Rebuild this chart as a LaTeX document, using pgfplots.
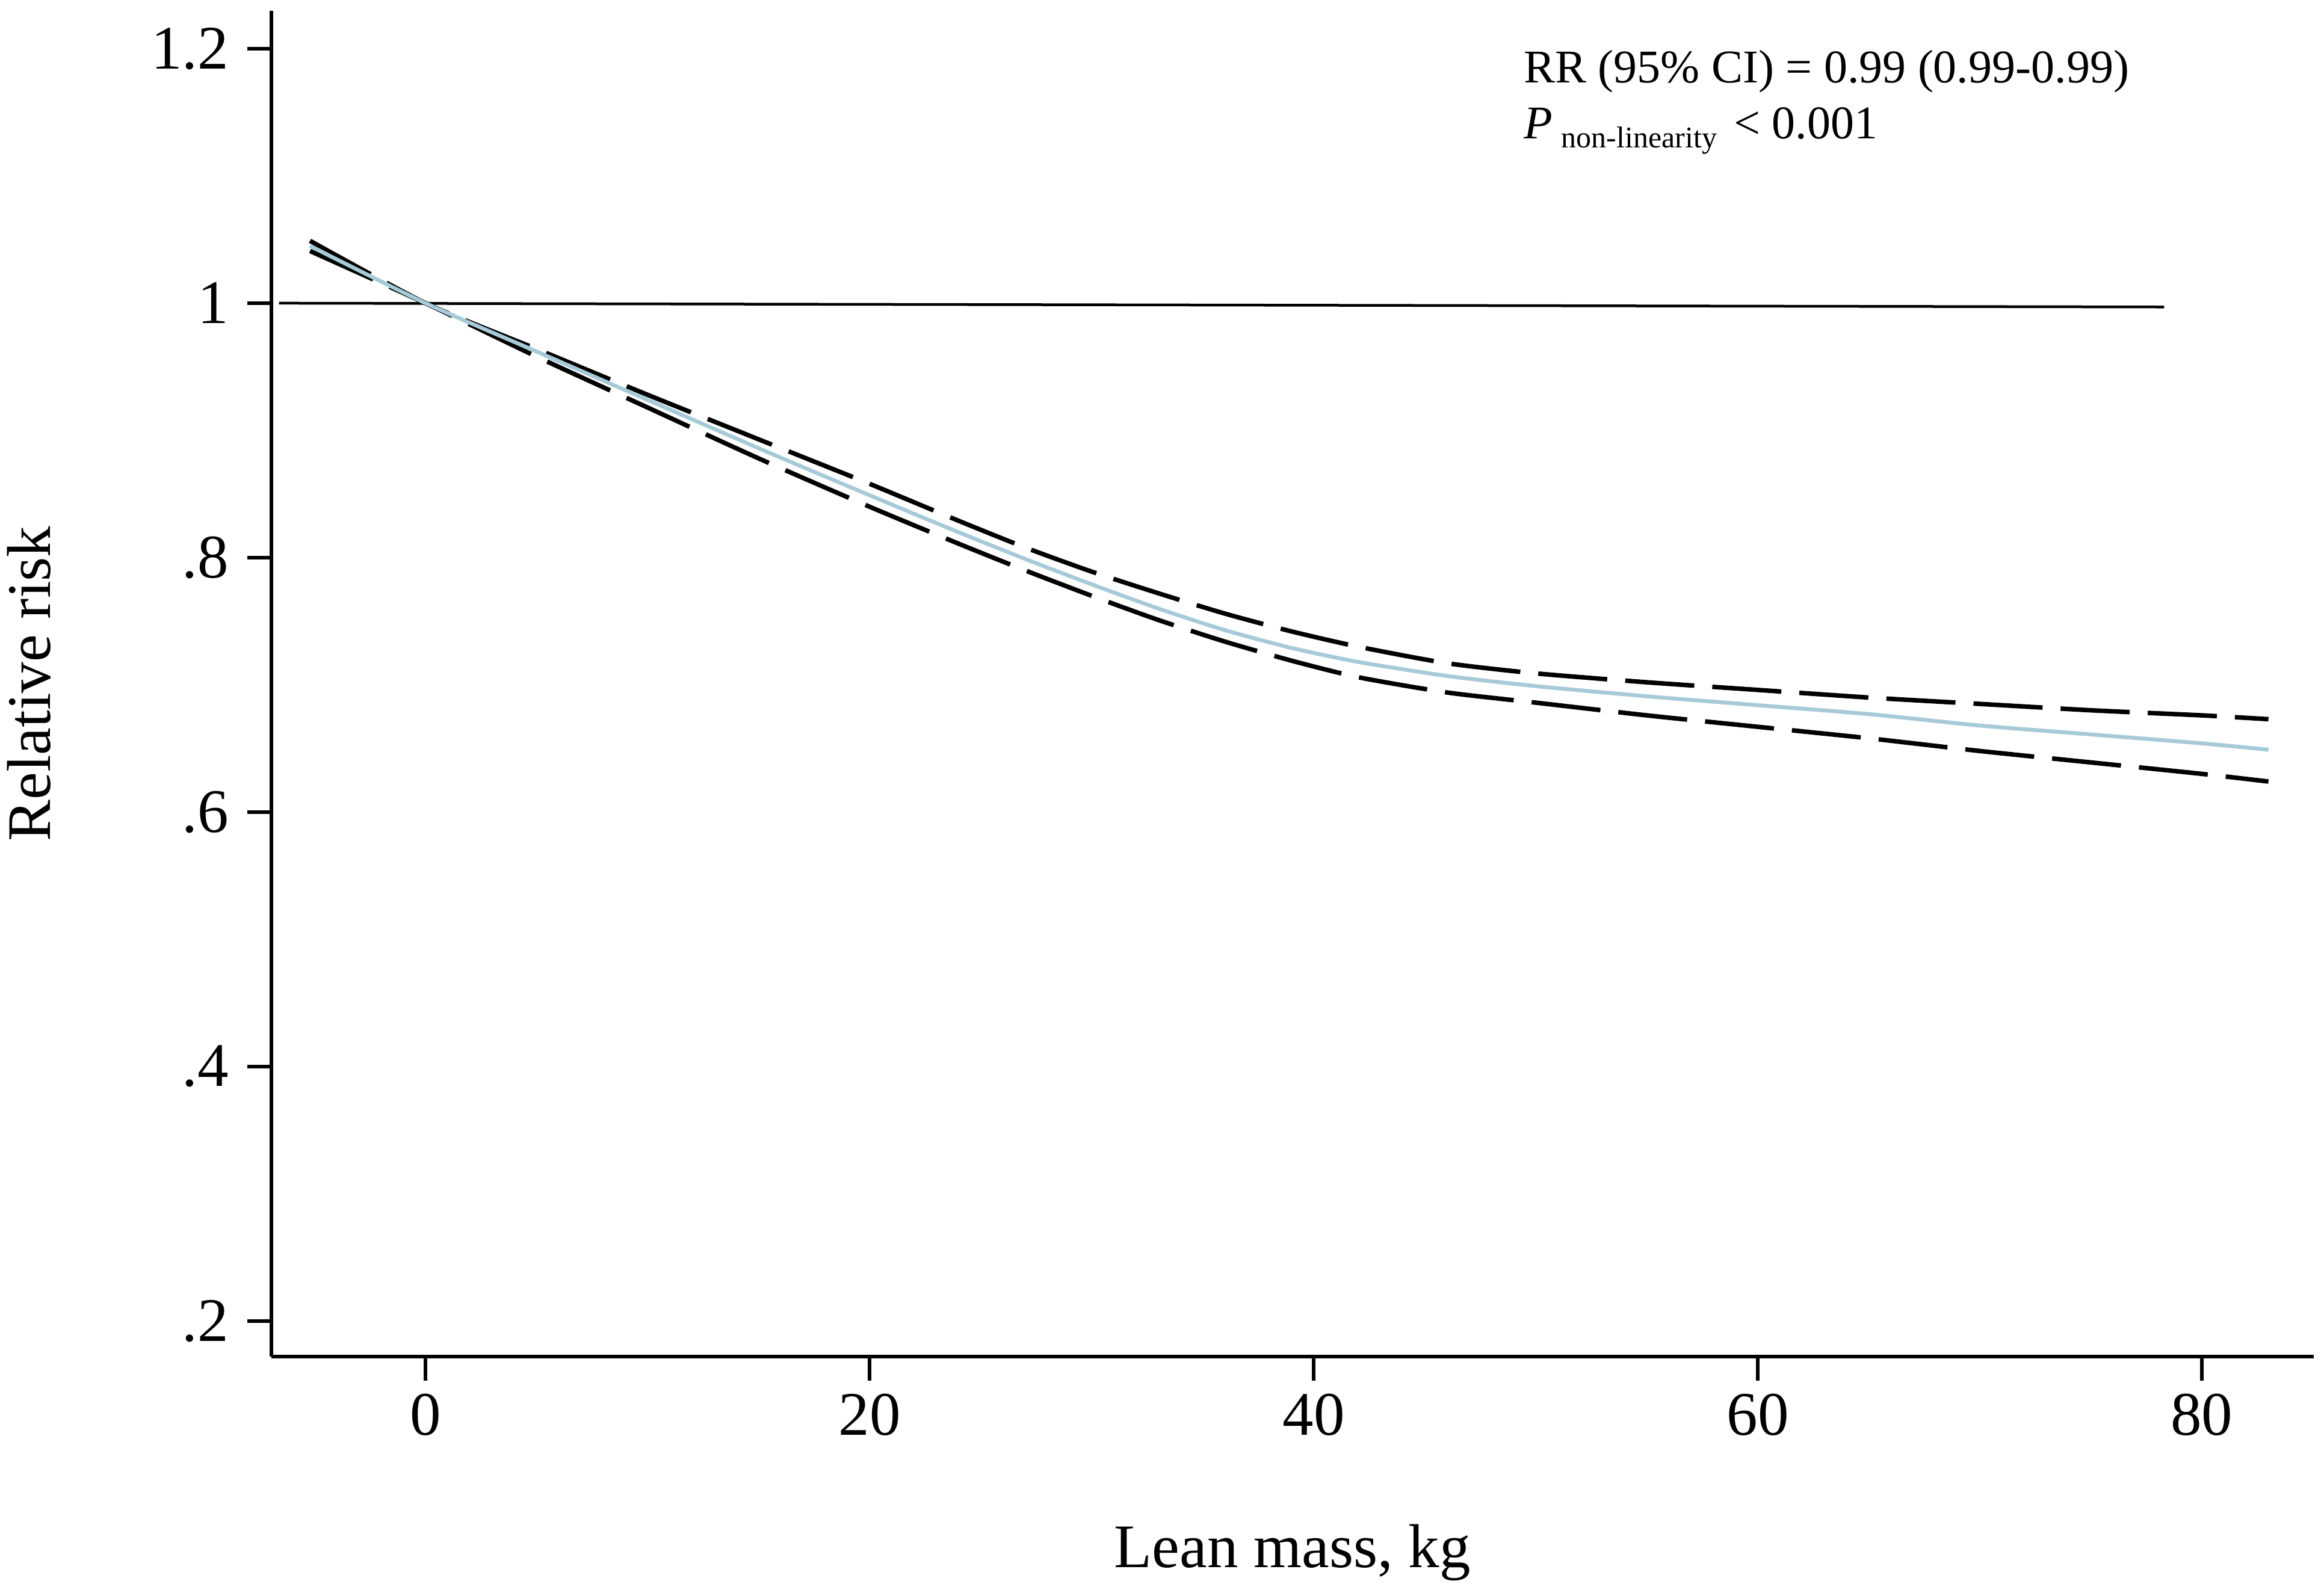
\documentclass[border=0pt]{standalone}
\usepackage{fontspec}
\setmainfont{Liberation Serif}
\usepackage{pgfplots}
\pgfplotsset{compat=1.18}
\definecolor{ciblue}{RGB}{166,202,216}
\begin{document}
\begin{tikzpicture}
\useasboundingbox (-45.1pt,-39.3pt) rectangle (341.1pt,225.5pt);
\begin{axis}[
  at={(0pt,0pt)}, anchor=south west,
  width=339.4pt, height=223.7pt, scale only axis,
  xmin=-6.94, xmax=85.04, ymin=0.172, ymax=1.2298,
  axis x line*=bottom, axis y line*=left,
  axis line style={-, line width=0.6pt, black},
  tick align=outside, major tick length=4pt,
  tick style={black, line width=0.55pt},
  xtick={0,20,40,60,80}, xticklabels={0,20,40,60,80},
  ytick={0.2,0.4,0.6,0.8,1,1.2}, yticklabels={.2,.4,.6,.8,1,1.2},
  ticklabel style={font=\fontsize{10.3}{12}\selectfont, inner sep=0pt},
  xticklabel style={anchor=base, yshift=-9.1pt},
  yticklabel style={anchor=east, xshift=-2.9pt},
  xlabel={Lean mass, kg},
  xlabel style={at={(axis description cs:0.5,-0.1565)}, anchor=base, inner sep=0pt, font=\fontsize{10.3}{12}\selectfont},
  ylabel={Relative risk},
  ylabel style={at={(axis description cs:-0.1084,0.5)}, anchor=base, rotate=0, inner sep=0pt, font=\fontsize{10.3}{12}\selectfont},
  clip=false,
]
% reference line at RR = 1
\addplot[black, line width=0.45pt] coordinates {(-6.6,1.000) (78.3,0.997)};
% upper 95% CI
\addplot[black, line width=0.75pt, dash pattern=on 11.5pt off 3pt, smooth, tension=0.4] coordinates {
(-5.2,1.049) (0,1.000) (5,0.964) (10,0.928) (15,0.893) (20,0.858) (24,0.829) (27,0.808)
(30,0.789) (33,0.772) (36,0.756) (39,0.742) (42,0.730) (46,0.717) (50,0.709) (55,0.702)
(60,0.696) (65,0.690) (70,0.685) (75,0.680) (80,0.676) (83,0.673)};
% lower 95% CI
\addplot[black, line width=0.75pt, dash pattern=on 11.5pt off 3pt, smooth, tension=0.4] coordinates {
(-5.2,1.041) (0,1.000) (5,0.958) (10,0.918) (15,0.878) (20,0.840) (24,0.811) (27,0.790)
(30,0.770) (33,0.751) (36,0.734) (39,0.719) (42,0.706) (46,0.694) (50,0.686) (55,0.676)
(60,0.667) (65,0.658) (70,0.648) (75,0.639) (80,0.630) (83,0.624)};
% point estimate
\addplot[ciblue, line width=0.65pt, smooth, tension=0.4] coordinates {
(-5.2,1.045) (0,1.000) (5,0.962) (10,0.924) (15,0.886) (20,0.849) (24,0.820) (27,0.799)
(30,0.779) (33,0.760) (36,0.743) (39,0.729) (42,0.718) (46,0.707) (50,0.699) (55,0.691)
(60,0.684) (65,0.677) (70,0.668) (75,0.661) (80,0.654) (83,0.649)};
\node[anchor=base west, inner sep=0pt, font=\fontsize{7.8}{9}\selectfont] at (axis description cs:0.6126,0.9464) {RR (95\% CI) = 0.99 (0.99-0.99)};
\node[anchor=base west, inner sep=0pt, font=\fontsize{7.8}{9}\selectfont] at (axis description cs:0.6126,0.9052) {\textit{P}\hspace{1.5pt}\raisebox{-1.5pt}{\fontsize{5}{6}\selectfont non-linearity}\hspace{2.8pt}< 0.001};
\end{axis}
\end{tikzpicture}
\end{document}
